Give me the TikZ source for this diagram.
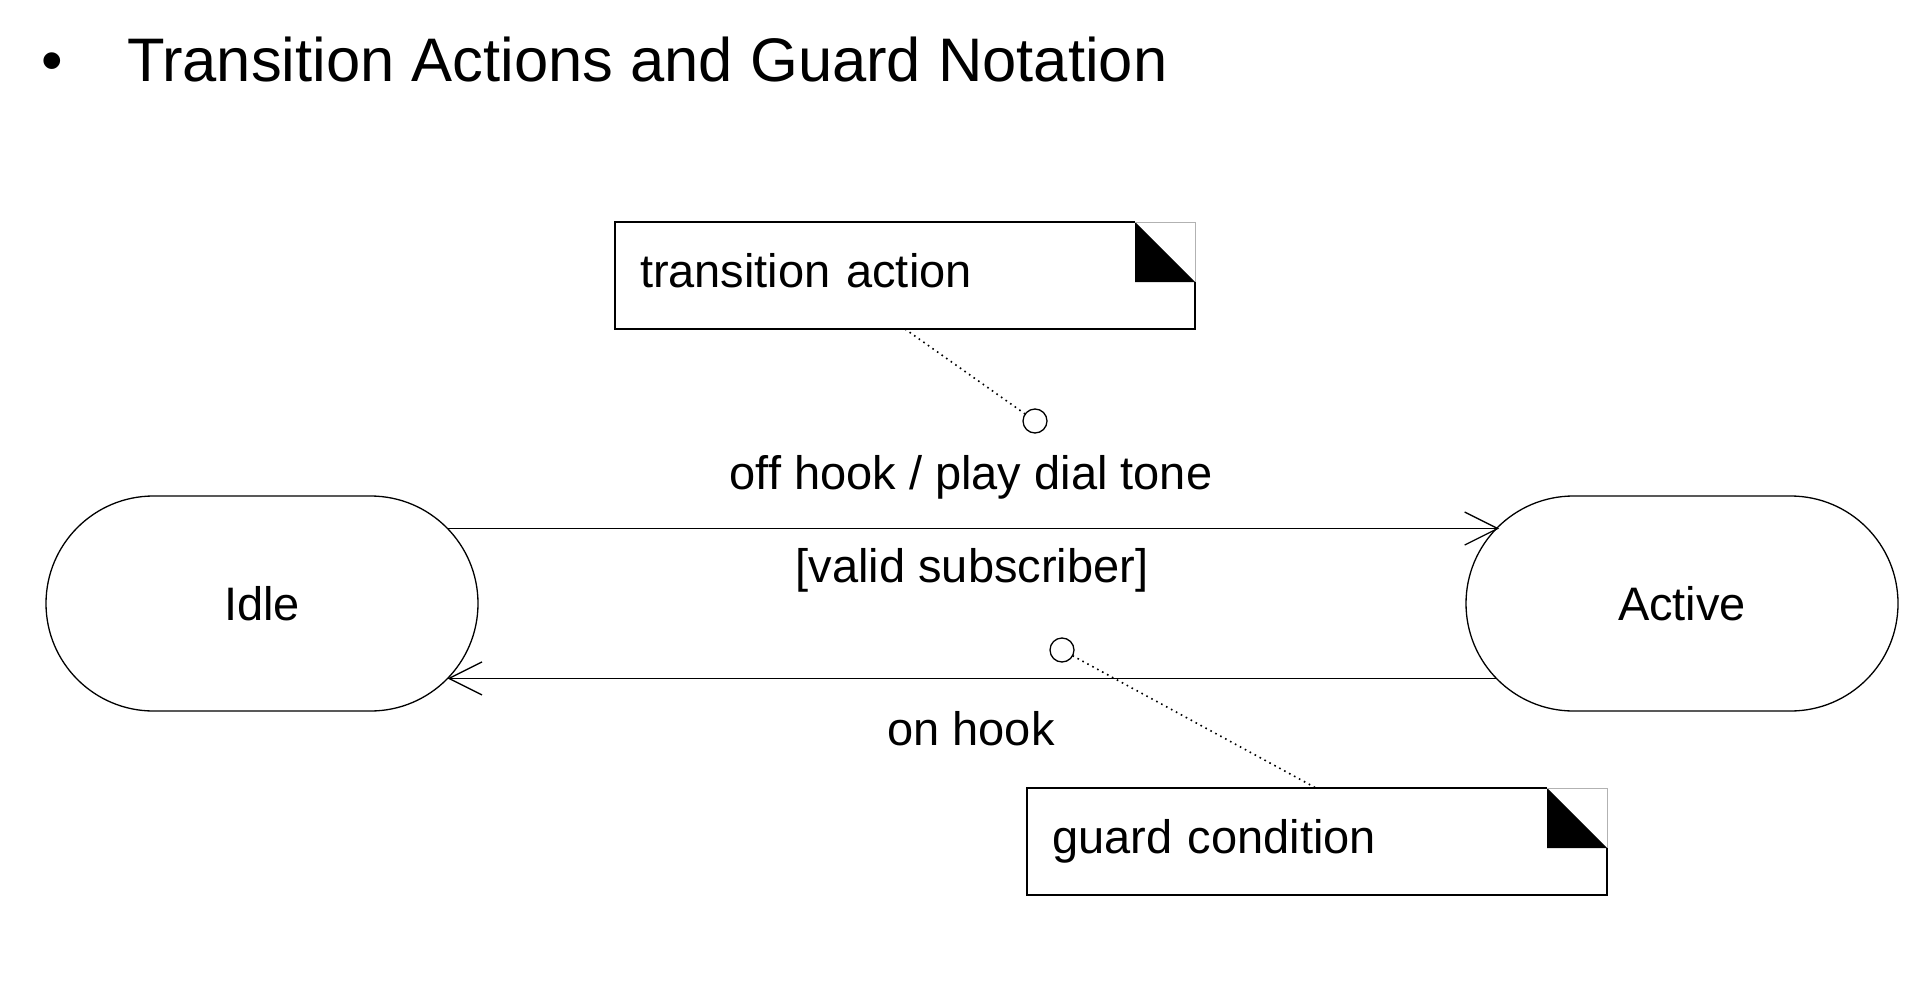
\documentclass[tikz,border=0pt]{standalone}
\usepackage{fontspec}
\setmainfont{Liberation Sans}
\usetikzlibrary{arrows.meta,shapes.misc}
\begin{document}
\begin{tikzpicture}[x=1pt,y=-1pt,
  every node/.style={inner sep=0pt, outer sep=0pt},
  txt/.style={font=\fontsize{47}{56}\selectfont},
  stbox/.style={rounded rectangle, draw, line width=1.3pt, minimum width=432pt, minimum height=215pt, txt},
  notebox/.style={rectangle, minimum height=107pt, inner xsep=25pt, text width=530pt, align=left, txt, text height=34pt, text depth=10pt},
  knob/.style={circle, draw, fill=white, line width=1.3pt, minimum size=24pt},
  trans/.style={line width=1.3pt, -{Straight Barb[length=33pt,width=33pt,line width=1.3pt]}},
  anchorline/.style={line width=1.6pt, dash pattern=on 1.6pt off 4pt},
  tlabel/.style={txt, anchor=base},
  edge/.style={line width=1.4pt},
  faint/.style={draw=black!30, line width=0.8pt}
]
\useasboundingbox (0,0) rectangle (1926,1000);

% title
\node[anchor=base, font=\fontsize{61.5}{70}\selectfont] (bullet) at (52,82) {•};
\node[anchor=base west, font=\fontsize{61.5}{70}\selectfont] (title) at (127,82) {Transition Actions and Guard Notation};

% states
\node[stbox] (Idle) at (262,603.5) {Idle};
\node[stbox] (Active) at (1682,603.5) {Active};

% transitions
\draw[trans] (Idle.22.2) -- (Idle.22.2 -| Active.157.8);
\draw[trans] (Active.202.2) -- (Active.202.2 -| Idle.-22.2);

% transition labels
\node[tlabel] (l1) at (971,489) {off hook / play dial tone};
\node[tlabel] (l2) at (972,582) {[valid subscriber]};
\node[tlabel] (l3) at (971,745) {on hook};

% notes
\node[notebox] (n1) at (905,275.5) {transition action};
\node[notebox] (n2) at (1317,841.5) {guard condition};

\foreach \n in {n1,n2}{
  \fill ([xshift=-60pt]\n.north east) -- ([xshift=-60pt,yshift=-60pt]\n.north east) -- ([yshift=-60pt]\n.north east) -- cycle;
  \draw[faint] ([xshift=-60pt]\n.north east) -- (\n.north east) -- ([yshift=-60pt]\n.north east);
  \draw[edge] ([yshift=-60pt]\n.north east) -- (\n.south east) -- (\n.south west) -- (\n.north west) -- ([xshift=-60pt]\n.north east);
}

% anchor circles and dotted links
\node[knob] (c1) at (1035,421) {};
\node[knob] (c2) at (1062,650) {};
\draw[anchorline] ([xshift=290pt]n1.south west) -- (c1);
\draw[anchorline] (c2) -- ([xshift=289pt]n2.north west);
\end{tikzpicture}
\end{document}
